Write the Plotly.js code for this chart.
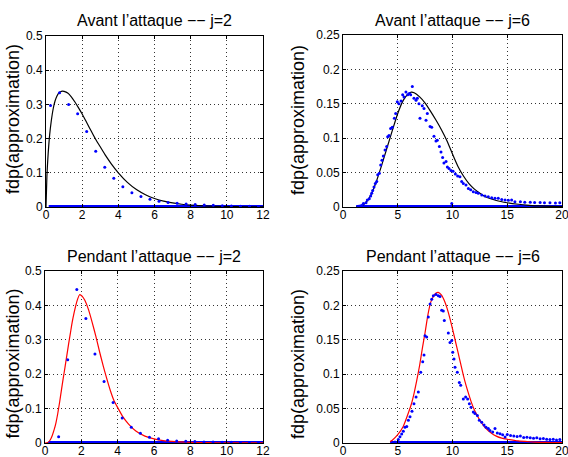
<!DOCTYPE html>
<html>
<head>
<meta charset="utf-8">
<script src="https://cdn.plot.ly/plotly-3.0.1.min.js"></script>
<style>html,body{margin:0;padding:0;background:#fff;}#chart{width:568px;height:457px;}</style>
</head>
<body>
<div id="chart"></div>
<script>
// ---------- data ----------
const titles = ["Avant l’attaque −− j=2", "Avant l’attaque −− j=6", "Pendant l’attaque −− j=2", "Pendant l’attaque −− j=6"];
const yLabel = "fdp(approximation)";

// Top-left : avant, j=2
const tlCurveX = [0,0.05,0.1,0.2,0.3,0.4,0.5,0.6,0.7,0.8,0.9,1.0,1.2,1.4,1.6,1.8,2.0,2.2,2.4,2.6,2.8,3.0,3.3,3.6,4.0,4.5,5.0,5.5,6.0,6.5,7,7.5,8,9,10,11,12];
const tlCurveY = [0,0.09,0.14,0.21,0.255,0.288,0.31,0.324,0.333,0.337,0.339,0.338,0.333,0.322,0.307,0.29,0.272,0.252,0.232,0.212,0.193,0.176,0.150,0.127,0.100,0.072,0.051,0.036,0.025,0.017,0.012,0.008,0.0055,0.0027,0.0013,0.0006,0.0003];
const tlDotX = [0.25,0.75,1.25,1.75,2.25,2.75,3.25,3.75,4.25,4.75,5.25,5.75,6.25,6.75,7.25,7.75,8.25,8.75,9.25,9.75,10.25,10.75,11.25,11.75];
const tlDotY = [0.297,0.334,0.300,0.273,0.221,0.163,0.116,0.084,0.059,0.042,0.031,0.023,0.017,0.0135,0.011,0.009,0.007,0.006,0.005,0.004,0.003,0.0025,0.002,0.0015];
const tlZeroX = [0.15,12];

// Top-right : avant, j=6
const trCurveX = [1.2,1.5,2,2.5,3,3.5,4,4.5,5,5.5,6,6.25,6.5,7,7.5,8,8.5,9,9.5,10,10.5,11,11.5,12,12.5,13,14,15,16,17,18,19,20];
const trCurveY = [0,0.0005,0.005,0.016,0.035,0.059,0.085,0.111,0.136,0.155,0.165,0.167,0.166,0.160,0.151,0.139,0.126,0.112,0.096,0.077,0.059,0.045,0.034,0.026,0.020,0.015,0.0095,0.0062,0.004,0.0025,0.0015,0.001,0.0006];
const trDotX = [1.4,1.55,1.7,1.86,2.1,2.22,2.4,2.53,2.62,2.71,2.83,2.95,3.08,3.17,3.32,3.44,3.56,3.68,3.84,3.99,4.08,4.2,4.35,4.5,4.69,4.81,4.96,5.11,5.3,5.45,5.57,5.75,5.91,6.06,6.18,6.33,6.48,6.67,6.79,6.94,7.03,7.24,7.4,7.58,7.7,7.95,8.1,8.31,8.49,8.61,8.8,8.95,9.1,9.22,9.41,9.53,9.68,9.86,9.93,10.05,10.26,10.47,10.68,10.84,10.99,11.23,11.45,11.66,11.9,12.15,12.36,12.67,12.97,13.27,13.58,13.88,14.18,14.5,14.8,15.1,15.4,15.7,16.2,16.6,17.1,17.5,18.0,18.4,18.9,19.4,19.8];
const trDotY = [0.001,0.0015,0.002,0.005,0.006,0.010,0.012,0.016,0.020,0.024,0.029,0.034,0.037,0.047,0.049,0.061,0.068,0.074,0.083,0.088,0.102,0.104,0.114,0.116,0.129,0.136,0.153,0.150,0.154,0.163,0.160,0.167,0.163,0.165,0.163,0.175,0.158,0.155,0.158,0.150,0.129,0.147,0.143,0.126,0.136,0.117,0.116,0.103,0.096,0.097,0.088,0.080,0.072,0.064,0.066,0.058,0.056,0.053,0.005,0.052,0.048,0.045,0.044,0.037,0.034,0.032,0.027,0.025,0.022,0.021,0.020,0.0175,0.016,0.015,0.0135,0.0126,0.0126,0.011,0.010,0.0097,0.010,0.0077,0.0077,0.007,0.007,0.0067,0.0067,0.006,0.006,0.0058,0.006];
const trZeroX = [1.2,20];

// Bottom-left : pendant, j=2
const blCurveX = [0,0.1,0.2,0.3,0.4,0.5,0.6,0.7,0.8,0.9,1.0,1.1,1.2,1.3,1.4,1.5,1.6,1.7,1.8,1.9,2.0,2.1,2.2,2.4,2.6,2.8,3.0,3.2,3.4,3.6,3.8,4.0,4.3,4.6,5.0,5.5,6.0,6.5,7,8,9,10,11,12];
const blCurveY = [0,0.0005,0.003,0.01,0.022,0.038,0.058,0.085,0.117,0.152,0.187,0.22,0.254,0.288,0.32,0.352,0.378,0.401,0.419,0.431,0.429,0.423,0.414,0.387,0.35,0.31,0.266,0.225,0.187,0.152,0.123,0.103,0.075,0.055,0.035,0.02,0.012,0.007,0.0045,0.002,0.001,0.0005,0.0003,0.0002];
const blDotX = [0.25,0.75,1.25,1.75,2.25,2.75,3.25,3.75,4.25,4.75,5.25,5.75,6.25,6.75,7.25,7.75,8.25,8.75,9.25,9.75,10.25,10.75,11.25,11.75];
const blDotY = [0,0.018,0.242,0.446,0.362,0.259,0.179,0.118,0.073,0.046,0.028,0.017,0.012,0.008,0.006,0.005,0.004,0.003,0.003,0.002,0.002,0.0015,0.001,0.001];
const blZeroX = [0.2,12];

// Bottom-right : pendant, j=6
const brCurveX = [4.3,4.5,5,5.5,6,6.25,6.5,6.75,7,7.25,7.5,7.75,8,8.25,8.5,8.7,9,9.25,9.5,9.75,10,10.25,10.5,10.75,11,11.25,11.5,11.75,12,12.5,13,13.5,14,14.5,15,16,17,18,19,20];
const brCurveY = [0.002,0.004,0.012,0.024,0.045,0.057,0.073,0.092,0.113,0.138,0.161,0.186,0.204,0.213,0.218,0.219,0.215,0.207,0.196,0.182,0.166,0.149,0.132,0.115,0.098,0.083,0.070,0.058,0.048,0.033,0.022,0.015,0.010,0.007,0.0055,0.003,0.0018,0.001,0.0006,0.0004];
const brDotX = [4.75,5.05,5.2,5.36,5.51,5.66,5.82,5.97,6.12,6.3,6.48,6.67,6.88,7.1,7.28,7.4,7.49,7.64,7.79,7.95,8.1,8.25,8.49,8.71,8.86,9.01,9.16,9.25,9.62,9.77,9.93,10.02,10.14,10.23,10.44,10.62,10.75,10.99,11.2,11.38,11.54,11.69,11.9,12.05,12.27,12.45,12.67,12.88,13.06,13.27,13.42,13.67,13.88,14.09,14.34,14.58,14.8,15.0,15.3,15.6,15.9,16.2,16.5,16.8,17.1,17.4,17.7,18.0,18.3,18.6,18.9,19.2,19.5,19.8];
const brDotY = [0.0015,0.005,0.009,0.013,0.017,0.023,0.024,0.033,0.038,0.046,0.057,0.067,0.074,0.103,0.118,0.128,0.156,0.154,0.183,0.202,0.209,0.214,0.216,0.214,0.213,0.193,0.192,0.178,0.160,0.146,0.149,0.132,0.122,0.110,0.103,0.088,0.084,0.064,0.067,0.064,0.057,0.052,0.045,0.043,0.040,0.033,0.030,0.026,0.023,0.021,0.018,0.016,0.021,0.0145,0.0135,0.012,0.0087,0.0125,0.011,0.010,0.0095,0.010,0.008,0.0085,0.0075,0.007,0.0075,0.006,0.0065,0.0055,0.005,0.0055,0.0045,0.005];
const brZeroX = [4.3,20];

// ---------- drawing ----------
const FONT = "Liberation Sans, Arial, Helvetica, sans-serif";
const BLUE = "#0000ff";
const W = 568, H = 457;

const panels = [
  {cx: tlCurveX, cy: tlCurveY, dx: tlDotX, dy: tlDotY, zx: tlZeroX, color: "#000000", xr: [0,12], xd: 2, yr: [0,0.5], yd: 0.1, px: [46,263], py: [36,207], lx: 12.5, ly: 119.5},
  {cx: trCurveX, cy: trCurveY, dx: trDotX, dy: trDotY, zx: trZeroX, color: "#000000", xr: [0,20], xd: 5, yr: [0,0.25], yd: 0.05, px: [343,562], py: [35,207], lx: 298, ly: 120},
  {cx: blCurveX, cy: blCurveY, dx: blDotX, dy: blDotY, zx: blZeroX, color: "#ff0000", xr: [0,12], xd: 2, yr: [0,0.5], yd: 0.1, px: [45,263], py: [271,443], lx: 12.5, ly: 364},
  {cx: brCurveX, cy: brCurveY, dx: brDotX, dy: brDotY, zx: brZeroX, color: "#ff0000", xr: [0,20], xd: 5, yr: [0,0.25], yd: 0.05, px: [343,562], py: [271,443], lx: 298, ly: 364}
];

const traces = [];
const layout = {
  width: W, height: H,
  margin: {l:0, r:0, t:0, b:0},
  paper_bgcolor: "#ffffff", plot_bgcolor: "#ffffff",
  showlegend: false,
  font: {family: FONT, color: "#000"},
  annotations: []
};

function axis(range, dtick, domain, anchor, isX) {
  return {
    domain: domain, range: range, dtick: dtick, tick0: 0, anchor: anchor,
    showline: true, mirror: "ticks", linecolor: "#000", linewidth: 1,
    ticks: "inside", ticklen: 3, tickcolor: "#000", tickwidth: 1,
    showgrid: true, gridcolor: "#333", griddash: "1px,3px", gridwidth: 1,
    zeroline: false, fixedrange: true, ticklabeloverflow: "allow",
    ticklabelstandoff: isX ? -3 : 0,
    tickfont: {family: FONT, size: 12, color: "#000"}
  };
}

panels.forEach((p, i) => {
  const n = i + 1;
  const xa = "x" + (n === 1 ? "" : n), ya = "y" + (n === 1 ? "" : n);
  const xk = "xaxis" + (n === 1 ? "" : n), yk = "yaxis" + (n === 1 ? "" : n);
  const xd = [p.px[0] / W, p.px[1] / W];
  const yd = [1 - p.py[1] / H, 1 - p.py[0] / H];
  layout[xk] = axis(p.xr, p.xd, xd, ya, true);
  layout[yk] = axis(p.yr, p.yd, yd, xa, false);

  traces.push({x: p.zx, y: [0, 0], xaxis: xa, yaxis: ya, mode: "lines",
    line: {color: BLUE, width: 4}, hoverinfo: "skip"});
  traces.push({x: p.cx, y: p.cy, xaxis: xa, yaxis: ya, mode: "lines",
    line: {color: p.color, width: 1.2, shape: "spline", smoothing: 0.6}, hoverinfo: "skip"});
  traces.push({x: p.dx, y: p.dy, xaxis: xa, yaxis: ya, mode: "markers",
    marker: {color: BLUE, size: 3, symbol: "circle", line: {width: 0}}, hoverinfo: "skip"});

  const cxp = (p.px[0] + p.px[1]) / 2;
  layout.annotations.push({
    text: titles[i], xref: "paper", yref: "paper",
    x: cxp / W, y: 1 - (p.py[0] - 15) / H, xanchor: "center", yanchor: "middle",
    showarrow: false, font: {family: FONT, size: 16, color: "#000"}
  });
  layout.annotations.push({
    text: yLabel, xref: "paper", yref: "paper", textangle: -90,
    x: p.lx / W, y: 1 - p.ly / H, xanchor: "center", yanchor: "middle",
    showarrow: false, font: {family: FONT, size: 18, color: "#000"}
  });
});

Plotly.newPlot("chart", traces, layout, {staticPlot: true, displayModeBar: false});
</script>
</body>
</html>
